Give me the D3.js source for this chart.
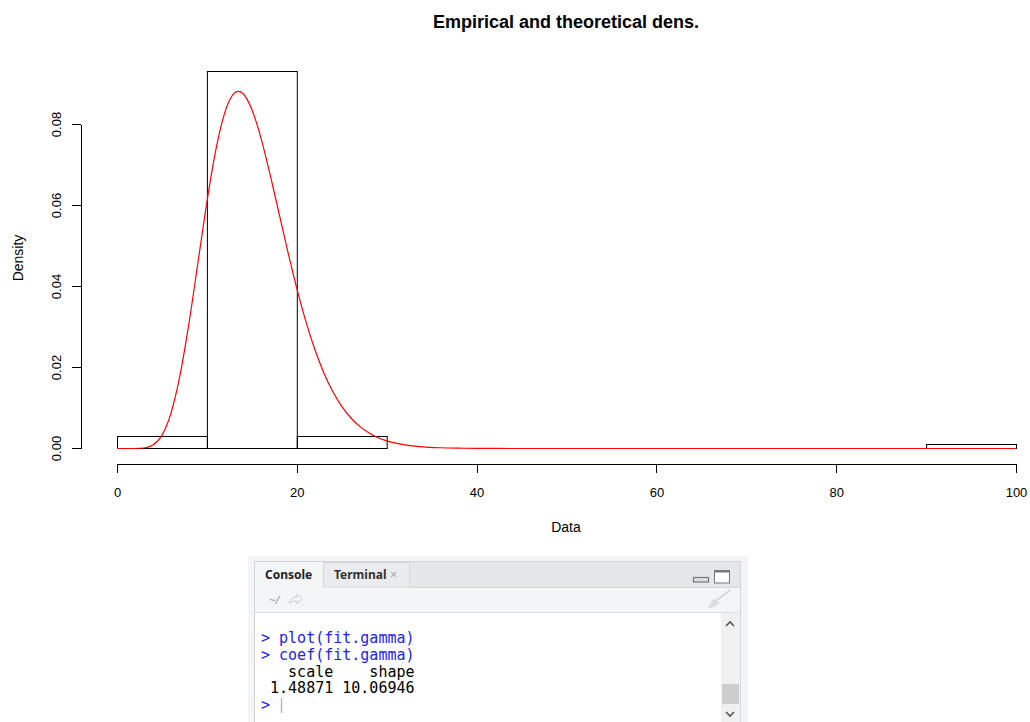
<!DOCTYPE html>
<meta charset="utf-8">
<style>
body { margin: 0; background: #fff; }
svg { display: block; }
.axis path, .axis line { stroke: #000; shape-rendering: crispEdges; }
</style>
<body>
<script src="https://d3js.org/d3.v7.min.js"></script>
<script>

// histogram: breaks and densities (counts / (n * width), n = 100)
var breaks = [0, 10, 20, 30, 40, 50, 60, 70, 80, 90, 100];
var densities = [0.003, 0.093, 0.003, 0, 0, 0, 0, 0, 0, 0.001];

// fitted gamma density
var curveX = [0, 1, 2, 3, 4, 5, 6, 7, 8, 9, 10, 11, 12, 13, 13.5, 14, 15, 16, 17, 18, 19, 20,
              21, 22, 23, 24, 25, 26, 27, 28, 29, 30, 32, 34, 36, 38, 40, 45, 50, 60, 70, 80, 90, 100];
var curveY = [0, 0, 0.000006, 0.00012, 0.00084, 0.00326, 0.00869, 0.01797, 0.03082, 0.04582,
              0.06085, 0.07379, 0.08298, 0.08761, 0.08817, 0.08764, 0.0837, 0.07677, 0.06794,
              0.0583, 0.04863, 0.03956, 0.03146, 0.02451, 0.01873, 0.01407, 0.01041, 0.00759,
              0.00546, 0.00388, 0.00272, 0.00189, 0.00089, 0.0004, 0.00018, 0.00008, 0.00003,
              0, 0, 0, 0, 0, 0, 0];

var xTicks = [0, 20, 40, 60, 80, 100];
var yTicks = [0, 0.02, 0.04, 0.06, 0.08];

// console lines
var consoleLines = [
  {text: "> plot(fit.gamma)", color: "#2222ee"},
  {text: "> coef(fit.gamma)", color: "#2222ee"},
  {text: "   scale    shape", color: "#000"},
  {text: " 1.48871 10.06946", color: "#000"}
];

var W = 1030, H = 722;
var svg = d3.select("body").append("svg").attr("width", W).attr("height", H);
var sans = "Liberation Sans, Arial, sans-serif";

var x = d3.scaleLinear().domain([0, 100]).range([117, 1016]);
var y = d3.scaleLinear().domain([0, 0.08]).range([448, 124]);

// title
svg.append("text")
    .attr("x", 566).attr("y", 28)
    .attr("text-anchor", "middle")
    .style("font-family", sans)
    .style("font-size", "18px").style("font-weight", "bold")
    .text("Empirical and theoretical dens.");

// histogram bars
var bins = densities.map(function(d, i) { return {x0: breaks[i], x1: breaks[i + 1], d: d}; });
svg.selectAll("rect.bar")
  .data(bins)
  .enter().append("rect")
    .attr("class", "bar")
    .attr("x", function(d) { return x(d.x0) + 0.5; })
    .attr("y", function(d) { return Math.round(y(d.d)) + 0.5; })
    .attr("width", function(d) { return x(d.x1) - x(d.x0); })
    .attr("height", function(d) { return Math.round(y(0)) - Math.round(y(d.d)); })
    .attr("fill", "none")
    .attr("stroke", "#000")
    .attr("stroke-width", 1);

// theoretical density
var line = d3.line()
    .x(function(d, i) { return x(curveX[i]); })
    .y(function(d) { return y(d) + 0.5; })
    .curve(d3.curveMonotoneX);
svg.append("path")
    .datum(curveY)
    .attr("d", line)
    .attr("fill", "none")
    .attr("stroke", "#ff0000")
    .attr("stroke-width", 1.2);

// axes
var xAxis = svg.append("g")
    .attr("class", "axis")
    .attr("transform", "translate(0,463.5)")
    .call(d3.axisBottom(x).tickValues(xTicks).tickSize(9).tickSizeOuter(0).tickFormat(d3.format("d")));
xAxis.selectAll("text")
    .attr("dy", "0").attr("y", 33)
    .style("font-family", sans).style("font-size", "13px").attr("fill", "#000");

var yAxis = svg.append("g")
    .attr("class", "axis")
    .attr("transform", "translate(80.5,0)")
    .call(d3.axisLeft(y).tickValues(yTicks).tickSize(9).tickSizeOuter(0).tickFormat(d3.format(".2f")));
yAxis.selectAll("text")
    .attr("x", 0).attr("y", 0).attr("dy", "0")
    .attr("text-anchor", "middle")
    .attr("transform", "translate(-20,0) rotate(-90)")
    .style("font-family", sans).style("font-size", "13px").attr("fill", "#000");

svg.append("text")
    .attr("x", 566).attr("y", 532)
    .attr("text-anchor", "middle")
    .style("font-family", sans)
    .style("font-size", "14px")
    .text("Data");

svg.append("text")
    .attr("transform", "translate(23,258) rotate(-90)")
    .attr("text-anchor", "middle")
    .style("font-family", sans)
    .style("font-size", "14px")
    .text("Density");

// RStudio console pane
var pane = svg.append("g");
pane.append("rect").attr("x", 248).attr("y", 556).attr("width", 500).attr("height", 166).attr("fill", "#f3f4f5");
pane.append("rect").attr("x", 254.5).attr("y", 561.5).attr("width", 486).attr("height", 170)
    .attr("fill", "#fff").attr("stroke", "#d3d6d9");
// tab bar
pane.append("rect").attr("x", 255).attr("y", 562).attr("width", 485).attr("height", 25).attr("fill", "#e4e6e9");
pane.append("rect").attr("x", 255).attr("y", 562).attr("width", 68).attr("height", 26).attr("fill", "#f3f5f7");
pane.append("rect").attr("x", 323.5).attr("y", 562.5).attr("width", 86).attr("height", 24.5)
    .attr("fill", "#e9ebee").attr("stroke", "#d3d6d9");
pane.append("line").attr("x1", 409).attr("x2", 740).attr("y1", 587.5).attr("y2", 587.5).attr("stroke", "#d3d6d9");
pane.append("line").attr("x1", 323.5).attr("x2", 323.5).attr("y1", 562).attr("y2", 588).attr("stroke", "#d3d6d9");

var tabFont = "Noto Sans, DejaVu Sans, sans-serif";
pane.append("text").attr("x", 265).attr("y", 579).text("Console")
    .style("font-family", tabFont).style("font-size", "12px").style("font-weight", "bold").attr("fill", "#222");
pane.append("text").attr("x", 334).attr("y", 579).text("Terminal")
    .style("font-family", tabFont).style("font-size", "12px").style("font-weight", "bold").attr("fill", "#333");
pane.append("text").attr("x", 390).attr("y", 579).text("×")
    .style("font-family", tabFont).style("font-size", "13px").attr("fill", "#aaa");

// minimise / maximise
pane.append("rect").attr("x", 693.5).attr("y", 577.5).attr("width", 15).attr("height", 4.5)
    .attr("fill", "#ddd").attr("stroke", "#777").attr("stroke-width", 1.2);
pane.append("rect").attr("x", 714.5).attr("y", 570.5).attr("width", 15).attr("height", 12.5)
    .attr("fill", "#fff").attr("stroke", "#777").attr("stroke-width", 1);
pane.append("rect").attr("x", 714.5).attr("y", 570.5).attr("width", 15).attr("height", 2).attr("fill", "#777");

// toolbar
pane.append("rect").attr("x", 255).attr("y", 588).attr("width", 485).attr("height", 24).attr("fill", "#f3f5f7");
pane.append("line").attr("x1", 255).attr("x2", 740).attr("y1", 612.5).attr("y2", 612.5).attr("stroke", "#dde0e3");
pane.append("text").attr("x", 269).attr("y", 604).text("~/")
    .style("font-family", tabFont).style("font-size", "11px").style("font-style", "italic").attr("fill", "#999");
pane.append("path").attr("d", "M289,603 q2,-6 8,-6 v-3 l5,5 l-5,5 v-3 q-5,0 -8,2 z")
    .attr("fill", "none").attr("stroke", "#ccc").attr("stroke-width", 1);
// broom
pane.append("path").attr("d", "M730,590 L716,601")
    .attr("stroke", "#ccc").attr("stroke-width", 1.5);
pane.append("path").attr("d", "M712,600 q6,-3 7,3 q-4,5 -12,5 q3,-3 5,-8 z").attr("fill", "#ddd");

// scrollbar
pane.append("rect").attr("x", 721).attr("y", 613).attr("width", 19).attr("height", 109).attr("fill", "#f0f0f0");
pane.append("rect").attr("x", 722).attr("y", 684).attr("width", 17).attr("height", 20).attr("fill", "#cdcdcd");
pane.append("path").attr("d", "M726,626 l4,-4 l4,4").attr("fill", "none").attr("stroke", "#555").attr("stroke-width", 1.6);
pane.append("path").attr("d", "M726,712 l4,4 l4,-4").attr("fill", "none").attr("stroke", "#555").attr("stroke-width", 1.6);

// console text
var mono = "DejaVu Sans Mono, Liberation Mono, monospace";
pane.selectAll("text.line")
  .data(consoleLines)
  .enter().append("text")
    .attr("class", "line")
    .attr("x", 261).attr("y", function(d, i) { return 643 + i * 16.8; })
    .attr("xml:space", "preserve")
    .style("white-space", "pre")
    .style("font-family", mono).style("font-size", "15px")
    .attr("fill", function(d) { return d.color; })
    .text(function(d) { return d.text; });
pane.append("text").attr("x", 261).attr("y", 643 + 4 * 16.8).text(">")
    .style("font-family", mono).style("font-size", "15px").attr("fill", "#2222ee");
pane.append("line").attr("x1", 281.5).attr("x2", 281.5).attr("y1", 698).attr("y2", 713)
    .attr("stroke", "#bbb").attr("stroke-width", 1.5);

</script>
</body>
